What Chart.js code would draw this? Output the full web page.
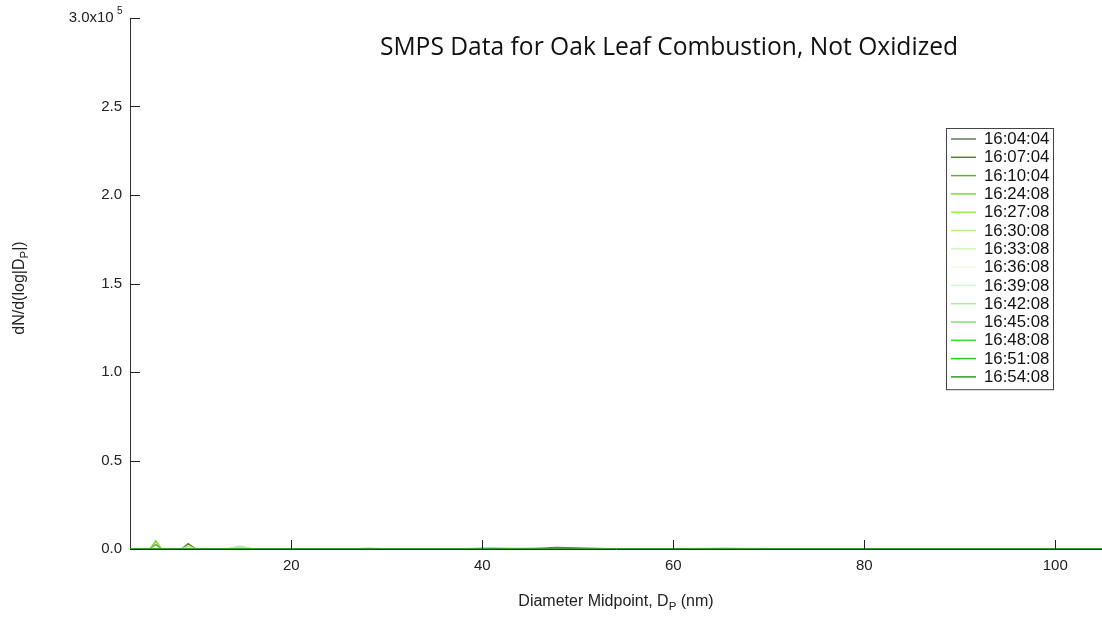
<!DOCTYPE html>
<html>
<head>
<meta charset="utf-8">
<script src="https://cdn.jsdelivr.net/npm/chart.js@4.4.1/dist/chart.umd.min.js"></script>
<style>
  html, body { margin: 0; padding: 0; background: #fff; }
  #wrap { width: 1102px; height: 617px; position: relative; }
</style>
</head>
<body>
<div id="wrap"><canvas id="smps"></canvas></div>
<script>
"use strict";

/* size bins (nm) */
var diameters = [3.1, 3.6, 4.1, 4.6, 5.2, 5.8, 6.4, 7.0, 7.7, 8.5, 9.2, 10.0, 11.0, 12.1, 13.3, 14.6, 16.0, 17.6, 19.3,
    21.2, 23.3, 25.6, 28.1, 30.9, 33.9, 37.2, 40.9, 44.9, 47.8, 54.1, 59.4, 65.3, 71.7, 78.7, 86.5, 95.0, 104.9];

var times = ['16:04:04', '16:07:04', '16:10:04', '16:24:08', '16:27:08', '16:30:08', '16:33:08',
    '16:36:08', '16:39:08', '16:42:08', '16:45:08', '16:48:08', '16:51:08', '16:54:08'];

var colors = ['#667a5a', '#587d30', '#68a82a', '#7cd834', '#8ef05a', '#b2f08a', '#d0f5b8',
    '#eefae6', '#d8f5d4', '#a8eaa4', '#7ee67a', '#3ed83e', '#2ec42e', '#2f9a2f'];

var s160404 = [0, 0, 0, 0, 0, 0, 0, 0, 0, 0, 0, 0, 0, 0, 0, 0, 0, 0, 0, 0, 0, 0, 300, 0, 0, 0, 0, 200, 900, 0, 0, 0, 0, 0, 0, 0, 0];
var s160704 = [0, 0, 0, 0, 0, 0, 0, 0, 0, 0, 3000, 0, 0, 0, 0, 0, 0, 0, 0, 0, 0, 0, 0, 0, 0, 0, 0, 0, 300, 0, 0, 0, 0, 0, 0, 0, 0];
var s161004 = [0, 0, 0, 0, 300, 2600, 0, 0, 0, 0, 0, 0, 0, 0, 0, 0, 0, 0, 0, 0, 0, 0, 0, 0, 0, 0, 0, 0, 0, 0, 0, 0, 0, 0, 0, 0, 0];
var s162408 = [0, 0, 0, 0, 0, 4600, 0, 0, 0, 0, 0, 0, 0, 0, 0, 0, 0, 0, 0, 0, 0, 0, 0, 0, 0, 0, 0, 0, 0, 0, 0, 0, 0, 0, 0, 0, 0];
var s162708 = [0, 0, 0, 0, 0, 0, 0, 0, 0, 0, 0, 0, 0, 0, 0, 1200, 0, 0, 0, 0, 0, 0, 0, 0, 0, 0, 0, 0, 0, 0, 0, 0, 0, 0, 0, 0, 0];
var s163008 = [0, 0, 0, 0, 0, 0, 0, 0, 0, 0, 1600, 0, 0, 0, 0, 1500, 0, 0, 0, 0, 0, 0, 0, 0, 0, 0, 0, 0, 0, 0, 0, 0, 0, 0, 0, 0, 0];
var s163308 = [0, 0, 0, 0, 0, 0, 0, 0, 0, 0, 0, 0, 0, 0, 0, 0, 0, 0, 0, 0, 0, 0, 0, 0, 0, 0, 600, 0, 0, 0, 0, 0, 0, 0, 0, 0, 0];
var s163608 = [0, 0, 0, 0, 0, 0, 0, 0, 0, 0, 0, 0, 0, 0, 0, 0, 0, 0, 0, 0, 0, 0, 0, 0, 0, 0, 0, 0, 0, 0, 0, 0, 0, 0, 0, 0, 0];
var s163908 = [0, 0, 0, 0, 0, 0, 0, 0, 0, 0, 0, 0, 0, 0, 0, 0, 0, 0, 0, 0, 0, 0, 0, 0, 0, 0, 0, 0, 0, 0, 0, 0, 0, 0, 0, 0, 0];
var s164208 = [0, 0, 0, 0, 0, 0, 0, 0, 0, 0, 0, 0, 0, 0, 0, 0, 0, 0, 0, 0, 0, 0, 0, 0, 0, 0, 0, 500, 0, 0, 0, 0, 0, 0, 0, 0, 0];
var s164508 = [0, 0, 0, 0, 0, 0, 0, 0, 0, 0, 0, 0, 0, 0, 0, 0, 0, 0, 0, 0, 0, 0, 0, 0, 0, 0, 0, 0, 0, 0, 0, 400, 0, 0, 0, 0, 0];
var s164808 = [0, 0, 0, 0, 0, 0, 0, 0, 0, 0, 0, 0, 0, 0, 0, 0, 0, 0, 0, 0, 0, 0, 0, 0, 0, 0, 400, 0, 0, 0, 0, 0, 0, 0, 0, 0, 0];
var s165108 = [0, 0, 0, 0, 0, 0, 0, 0, 0, 0, 0, 0, 0, 0, 0, 0, 0, 0, 0, 0, 0, 0, 0, 0, 0, 0, 0, 0, 0, 0, 0, 0, 0, 0, 0, 0, 0];
var s165408 = [0, 0, 0, 0, 0, 0, 0, 0, 0, 0, 0, 0, 0, 0, 0, 0, 0, 0, 0, 0, 0, 0, 0, 0, 0, 0, 0, 0, 0, 0, 0, 0, 0, 0, 0, 0, 0];

var series = [s160404, s160704, s161004, s162408, s162708, s163008, s163308,
    s163608, s163908, s164208, s164508, s164808, s165108, s165408];

var xTicks = [20, 40, 60, 80, 100];
var yTicks = [0, 50000, 100000, 150000, 200000, 250000, 300000];

var FONT = '"Liberation Sans", Arial, sans-serif';

/* draw text with subscript pieces, centered on x */
function richText(ctx, parts, x, y, size) {
    var total = 0;
    parts.forEach(function (p) {
        ctx.font = (p.sub ? size * 0.72 : size) + 'px ' + FONT;
        p.w = ctx.measureText(p.t).width;
        total += p.w;
    });
    var cx = x - total / 2;
    ctx.textAlign = 'left';
    ctx.textBaseline = 'middle';
    parts.forEach(function (p) {
        ctx.font = (p.sub ? size * 0.72 : size) + 'px ' + FONT;
        ctx.fillText(p.t, cx, p.sub ? y + size * 0.3 : y);
        cx += p.w;
    });
}

var decor = {
    id: 'decor',
    afterDraw: function (chart) {
        var ctx = chart.ctx;
        var xs = chart.scales.x, ys = chart.scales.y;
        var area = chart.chartArea;
        ctx.save();

        /* inward ticks */
        ctx.strokeStyle = '#222';
        ctx.lineWidth = 1;
        ctx.beginPath();
        yTicks.forEach(function (v) {
            var py = Math.round(ys.getPixelForValue(v)) + 0.5;
            ctx.moveTo(area.left, py);
            ctx.lineTo(area.left + 10, py);
        });
        xTicks.forEach(function (v) {
            var px = Math.round(xs.getPixelForValue(v)) + 0.5;
            ctx.moveTo(px, area.bottom);
            ctx.lineTo(px, area.bottom - 9);
        });
        ctx.stroke();

        /* exponent on the top y label */
        ctx.fillStyle = '#222';
        ctx.font = '10px ' + FONT;
        ctx.textAlign = 'left';
        ctx.textBaseline = 'middle';
        ctx.fillText('5', 117, ys.getPixelForValue(300000) - 7);

        /* title */
        ctx.fillStyle = '#111';
        ctx.font = '24.6px "Open Sans", "Noto Sans", sans-serif';
        ctx.textAlign = 'center';
        ctx.textBaseline = 'middle';
        ctx.fillText('SMPS Data for Oak Leaf Combustion, Not Oxidized', 669, 48);

        /* axis titles */
        ctx.fillStyle = '#222';
        richText(ctx, [{ t: 'Diameter Midpoint, D' }, { t: 'P', sub: true }, { t: ' (nm)' }],
            (area.left + area.right) / 2, 602, 16);
        ctx.save();
        ctx.translate(20, 288);
        ctx.rotate(-Math.PI / 2);
        richText(ctx, [{ t: 'dN/d(log|D' }, { t: 'P', sub: true }, { t: '|)' }], 0, 0, 16);
        ctx.restore();

        /* legend box */
        var bx = 946, by = 128, bw = 107, rowH = 18.3;
        var bh = times.length * rowH + 5;
        ctx.fillStyle = '#fff';
        ctx.fillRect(bx, by, bw, bh);
        ctx.strokeStyle = '#444';
        ctx.lineWidth = 1;
        ctx.strokeRect(bx + 0.5, by + 0.5, bw, bh);
        ctx.font = '16.8px ' + FONT;
        ctx.textAlign = 'left';
        ctx.textBaseline = 'middle';
        chart.data.datasets.forEach(function (ds, i) {
            var ry = by + 11 + i * rowH;
            ctx.strokeStyle = ds.borderColor;
            ctx.lineWidth = 1.5;
            ctx.beginPath();
            ctx.moveTo(bx + 5, ry);
            ctx.lineTo(bx + 30, ry);
            ctx.stroke();
            ctx.fillStyle = '#111';
            ctx.fillText(ds.label, bx + 38, ry + 0.5);
        });
        ctx.restore();
    }
};

var datasets = times.map(function (t, i) {
    return {
        label: t,
        data: series[i].map(function (v, k) { return { x: diameters[k], y: v }; }),
        borderColor: colors[i],
        backgroundColor: colors[i],
        borderWidth: 1.5,
        pointRadius: 0,
        tension: 0,
        order: times.length - i
    };
});

var ctx = document.getElementById('smps').getContext('2d');
new Chart(ctx, {
    type: 'line',
    data: { datasets: datasets },
    options: {
        responsive: true,
        maintainAspectRatio: false,
        animation: false,
        layout: { padding: { top: 18, right: 0, bottom: 0, left: 0 } },
        plugins: {
            legend: { display: false },
            tooltip: { enabled: false }
        },
        scales: {
            x: {
                type: 'linear',
                min: 3.1,
                max: 104.9,
                afterBuildTicks: function (s) { s.ticks = xTicks.map(function (v) { return { value: v }; }); },
                afterFit: function (s) { s.height = 68; },
                grid: { drawOnChartArea: false, drawTicks: false },
                border: { display: true, color: '#333', width: 1 },
                ticks: {
                    padding: 8,
                    color: '#222',
                    font: { family: FONT, size: 15 },
                    maxRotation: 0
                }
            },
            y: {
                type: 'linear',
                min: 0,
                max: 300000,
                afterBuildTicks: function (s) { s.ticks = yTicks.map(function (v) { return { value: v }; }); },
                afterFit: function (s) { s.width = 130; },
                grid: { drawOnChartArea: false, drawTicks: false },
                border: { display: true, color: '#333', width: 1 },
                ticks: {
                    padding: 8,
                    color: '#222',
                    font: { family: FONT, size: 15 },
                    callback: function (v) {
                        return v === 300000 ? '3.0x10  ' : (v / 100000).toFixed(1);
                    }
                }
            }
        }
    },
    plugins: [decor]
});
</script>
</body>
</html>
